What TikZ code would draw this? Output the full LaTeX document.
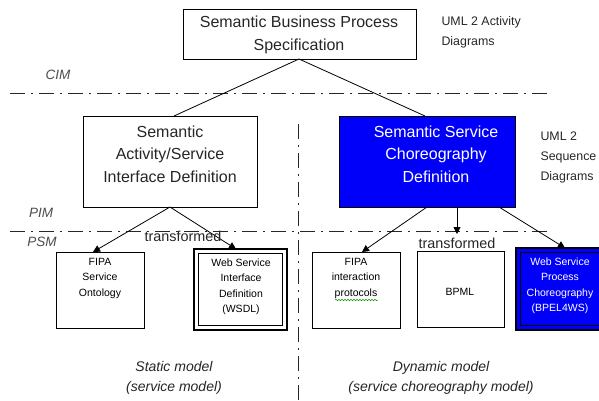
\documentclass[tikz,border=0pt]{standalone}
\usepackage{fontspec}
\setmainfont{Liberation Sans}
\usetikzlibrary{arrows.meta,decorations.pathmorphing}
\definecolor{sblue}{RGB}{0,0,250}
\begin{document}
\begin{tikzpicture}[x=1pt,y=-1pt,
  bigbox/.style={draw=black,line width=0.8pt,minimum width=#1,inner sep=0pt},
  bigtext/.style={font=\fontsize{16}{22.5}\selectfont,align=center,text=black!85},
  smalltext/.style={font=\fontsize{10.5}{15.5}\selectfont,align=center},
  sidetext/.style={font=\fontsize{12.4}{20}\selectfont,align=left,text=black!85},
  leveltext/.style={font=\fontsize{13.5}{16}\selectfont\itshape,text=black!70},
  modeltext/.style={font=\fontsize{14}{20}\selectfont\itshape,align=center,text=black!85},
  dashdot/.style={line width=1pt,dash pattern=on 15pt off 6pt on 2pt off 6pt,black!85},
  conn/.style={line width=0.8pt,black},
  arr/.style={conn,-{Triangle[width=7pt,length=7pt]}}
]
\useasboundingbox (0,0) rectangle (599,400);
% separator lines
\coordinate (h1a) at (10,93);
\coordinate (h1b) at (550,93);
\coordinate (h2a) at (10,231);
\coordinate (h2b) at (550,231);
\coordinate (v1a) at (298,124);
\coordinate (v1b) at (298,400);
\draw[dashdot] (h1a) -- (h1b);
\draw[dashdot] (h2a) -- (h2b);
\draw[dashdot] (v1a) -- (v1b);

% top box
\draw[line width=0.8pt] (183,9) rectangle (416,59);
\coordinate (topS) at (299,59);
\node[bigtext] (toptxt) at (299,35) {Semantic Business Process\\Specification};

% left PIM box
\draw[line width=0.8pt] (83,116) rectangle (257,207);
\coordinate (leftN) at (174,116);
\coordinate (leftS) at (170,207);
\node[bigtext] (lefttxt) at (170,154) {Semantic\\Activity/Service\\Interface Definition};

% blue PIM box
\draw[line width=0.8pt,fill=sblue] (339,116) rectangle (515,207);
\coordinate (blueN) at (425,116);
\coordinate (blueSL) at (427,207);
\coordinate (blueSM) at (457,207);
\coordinate (blueSR) at (499,207);
\node[bigtext,text=white] (bluetxt) at (436,154) {Semantic Service\\Choreography\\Definition};

% top connections
\draw[conn] (topS) -- (leftN);
\draw[conn] (topS) -- (blueN);

% side texts
\node[sidetext,anchor=west] (uml1) at (438,32) {UML 2 Activity\\Diagrams};
\node[sidetext,anchor=west] (uml2) at (537,157) {UML 2\\Sequence\\Diagrams};

% level texts
\node[leveltext] (cim) at (58,75) {CIM};
\node[leveltext] (pim) at (41,213) {PIM};
\node[leveltext] (psm) at (42,242) {PSM};

% bottom boxes
\draw[line width=0.8pt] (56,252) rectangle (144,328);
\coordinate (fipaSN) at (93,252);
\node[smalltext] (fipas) at (100,278) {FIPA\\Service\\Ontology};

\draw[line width=1.6pt] (194,249) rectangle (287,330);
\draw[line width=0.8pt] (198.5,253.5) rectangle (282.5,325.5);
\coordinate (wsdlN) at (236,249);
\node[smalltext] (wsdl) at (241,287) {Web Service\\Interface\\Definition\\(WSDL)};

\draw[line width=0.8pt] (312,252) rectangle (400,328);
\coordinate (fipaiN) at (362,252);
\node[smalltext] (fipai) at (356,278) {FIPA\\interaction\\protocols};
\draw[green!60!black,line width=0.5pt,decorate,decoration={snake,segment length=3pt,amplitude=0.7pt}] (335,300) -- (378,300);

\draw[line width=0.8pt] (417,251) rectangle (504,327);
\node[smalltext] (bpml) at (460,292) {BPML};
\coordinate (midtip) at (457,234);

\draw[line width=1.6pt,fill=sblue] (516,248) rectangle (600,330);
\draw[line width=0.8pt] (520.5,252.5) rectangle (600,325.5);
\coordinate (bpelN) at (565,248);
\node[smalltext,text=white] (bpel) at (560,286) {Web Service\\Process\\Choreography\\(BPEL4WS)};

% transformations
\draw[arr] (leftS) -- (fipaSN);
\draw[arr] (leftS) -- (wsdlN);
\draw[arr] (blueSL) -- (fipaiN);
\draw[arr] (blueSM) -- (midtip);
\draw[arr] (blueSR) -- (bpelN);
\node[font=\fontsize{14.4}{16}\selectfont,text=black!85] (tr1) at (183,236) {transformed};
\node[font=\fontsize{14.4}{16}\selectfont,text=black!85] (tr2) at (457,243) {transformed};

% model texts
\node[modeltext] (static) at (174,378) {Static model\\(service model)};
\node[modeltext] (dynamic) at (441,378) {Dynamic model\\(service choreography model)};
\end{tikzpicture}
\end{document}
